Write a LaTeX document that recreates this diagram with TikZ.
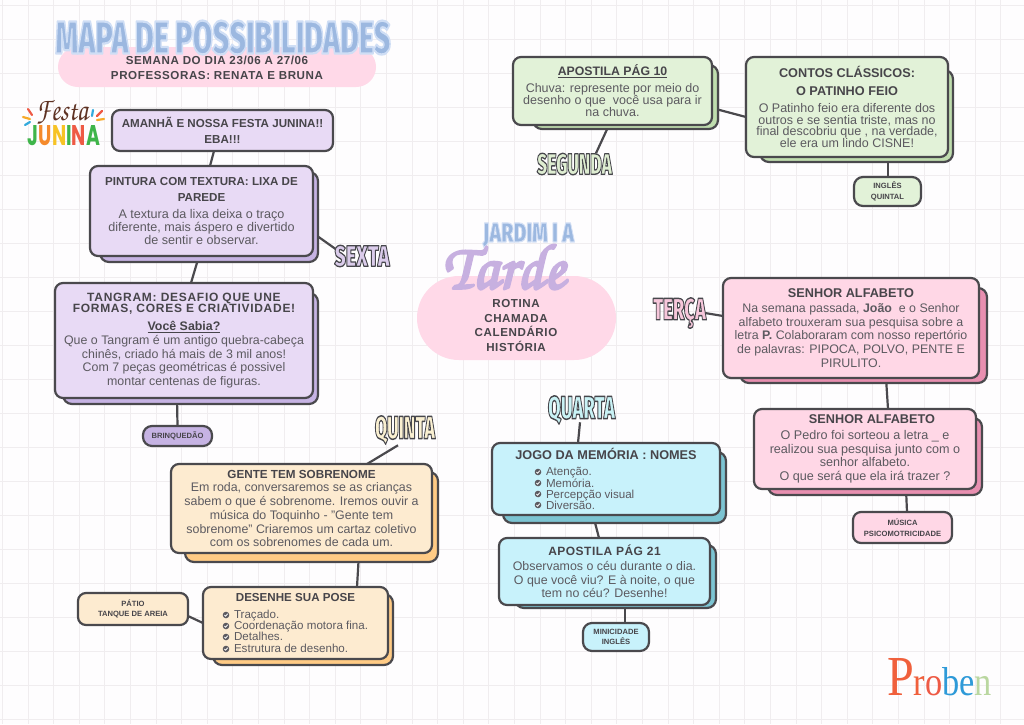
\documentclass[tikz,border=0pt]{standalone}
\usepackage[T1,TU]{fontenc}
\usepackage{fontspec}
\usepackage{graphicx}
\usetikzlibrary{calc}
\setmainfont{Liberation Sans}
\newfontfamily\dayfont{Fira Sans Black}
\newcommand\zapf{\fontencoding{T1}\fontfamily{pzc}\fontseries{mb}\fontshape{it}\selectfont}
\definecolor{paper}{HTML}{FEFDFE}
\definecolor{gridc}{HTML}{F0EDEF}
\definecolor{ink}{HTML}{4A494D}
\definecolor{bodyc}{HTML}{5C5A60}
\definecolor{headc}{HTML}{47454A}
\definecolor{blob}{HTML}{FFD9E8}
\definecolor{lilac}{HTML}{E8DAF5}
\definecolor{lilacd}{HTML}{C6B3E3}
\definecolor{cream}{HTML}{FDEBD0}
\definecolor{creamd}{HTML}{FFCB85}
\definecolor{mint}{HTML}{E2F2D8}
\definecolor{mintd}{HTML}{BFDDAE}
\definecolor{rose}{HTML}{FFD7E6}
\definecolor{rosed}{HTML}{E88FB0}
\definecolor{sky}{HTML}{C8F2FB}
\definecolor{skyd}{HTML}{7CC4D2}
\pgfdeclarelayer{gridlayer}\pgfdeclarelayer{linklayer}\pgfdeclarelayer{shadelayer}
\pgfsetlayers{gridlayer,linklayer,shadelayer,main}
\tikzset{
  x=1pt,y=-1pt,
  cardbox/.style={draw=ink,line width=2.2pt,rounded corners=8pt,inner sep=0pt,outer sep=0pt,text=bodyc,anchor=center},
  pillbox/.style={cardbox,rounded corners=9pt},
  backshade/.style={draw=ink,line width=2.2pt,rounded corners=9pt},
  linkline/.style={draw=ink,line width=2.2pt},
  blobshape/.style={fill=blob,draw=none},
  plaintext/.style={inner sep=0pt,outer sep=0pt,anchor=center},
  ray/.style={line width=2.2pt,line cap=round},
  tick/.style={fill=bodyc,draw=none}
}
\newcommand\hd[1]{{\bfseries\color{headc}#1}}
\newcommand\fz[2]{\fontsize{#1pt}{#2pt}\selectfont}
\newcommand\card[9]{%
  \pgfmathsetmacro\mx{(#2+#4)/2}\pgfmathsetmacro\my{(#3+#5)/2}%
  \pgfmathsetmacro\mw{#4-#2}\pgfmathsetmacro\mh{#5-#3}%
  \node[#8,fill=#6,minimum width=\mw pt,minimum height=\mh pt] (#1) at (\mx,\my)
    {\raisebox{#7pt}{\parbox{\mw pt}{\centering #9}}};}
\newcommand\backing[5]{\begin{pgfonlayer}{shadelayer}\draw[backshade,fill=#5] (#1,#2) rectangle (#3,#4);\end{pgfonlayer}}
\newcommand\outl[4]{\special{pdf:code q 2 Tr #1 w 1 j #2 RG #3 rg}#4\special{pdf:code Q}}
\newcommand\daylabel[7]{\node[plaintext] (#1) at (#2,#3) {\resizebox{#4pt}{#5pt}{\dayfont\fontsize{26pt}{26pt}\selectfont\outl{1.2}{0.28 0.28 0.3}{#6}{#7}}};}
\begin{document}
\begin{tikzpicture}
\useasboundingbox (0,0) rectangle (1024,724);
\begin{pgfonlayer}{gridlayer}
  \fill[paper] (0,0) rectangle (1024,724);
  \foreach \k in {-1,...,39} {\draw[gridc,line width=0.8pt] ({28+25.6*\k},0) -- ({28+25.6*\k},724);}
  \foreach \k in {0,...,21} {\draw[gridc,line width=0.8pt] (0,{5+34*\k}) -- (1024,{5+34*\k});}
  \fill[blobshape,rounded corners=20pt] (58,47) rectangle (376,87);
  \fill[blobshape,rounded corners=42pt] (417,276) rectangle (616,360);
\end{pgfonlayer}

% Titles
\node[plaintext] (title) at (223,37.5) {\resizebox{335pt}{33pt}{\dayfont\fontsize{48pt}{48pt}\selectfont\outl{2.4}{0.81 0.87 0.96}{0.61 0.72 0.88}{MAPA DE POSSIBILIDADES}}};
\node[plaintext,text=headc,align=center,font={\fz{11.6}{15}\bfseries\addfontfeature{LetterSpace=5}}] (week) at (217,67.5) {SEMANA DO DIA 23/06 A 27/06\\PROFESSORAS: RENATA E BRUNA};

\node[plaintext] (jardim) at (528.5,235) {\resizebox{91pt}{19pt}{\dayfont\fontsize{28pt}{28pt}\selectfont\outl{1.2}{0.83 0.88 0.96}{0.61 0.72 0.88}{JARDIM I A}}};
\node[plaintext] (tarde) at (504,266) {\resizebox{122pt}{46pt}{\zapf\fontsize{60pt}{60pt}\selectfont\outl{2.4}{0.78 0.69 0.88}{0.78 0.69 0.88}{Tarde}}};
\node[plaintext,text=headc,align=center,font={\fz{11.6}{14.5}\bfseries\addfontfeature{LetterSpace=5}}] (rotina) at (516,325.5) {ROTINA\\CHAMADA\\CALENDÁRIO\\HISTÓRIA};

% Festa Junina logo
\node[plaintext] (festa) at (62,113) {\resizebox{52pt}{20pt}{\zapf\color[HTML]{5E3223}Festa}};
\node[plaintext] (junina) at (64,135.5) {\resizebox{72pt}{20pt}{\fontspec{Poppins}\bfseries\textcolor[HTML]{3FB54A}{J}\textcolor[HTML]{F58A2C}{U}\textcolor[HTML]{F7C325}{N}\textcolor[HTML]{3FB54A}{I}\textcolor[HTML]{EE5A45}{N}\textcolor[HTML]{3FB54A}{A}}};
\draw[ray,color={rgb,255:red,238;green,90;blue,69}] (28,109) -- (32,115);
\draw[ray,color={rgb,255:red,247;green,170;blue,40}] (23,117) -- (30,119);
\draw[ray,color={rgb,255:red,50;green,170;blue,220}] (25,125) -- (30,122);
\draw[ray,color={rgb,255:red,50;green,170;blue,220}] (93,110) -- (92,116);
\draw[ray,color={rgb,255:red,238;green,90;blue,69}] (102,111) -- (97,116);
\draw[ray,color={rgb,255:red,247;green,170;blue,40}] (104,119) -- (97,120);

% Proben
\node[plaintext] (proben) at (939.5,677) {\resizebox{105pt}{37pt}{\fontspec{Liberation Serif}\addfontfeature{LetterSpace=8}\textcolor[HTML]{F0603C}{\fontsize{14pt}{14pt}\selectfont P}\textcolor[HTML]{F0603C}{r}\textcolor[HTML]{EE5A45}{o}\textcolor[HTML]{2E9AD8}{b}\textcolor[HTML]{2E9AD8}{e}\textcolor[HTML]{BAD7A0}{n}}};

% Left column
\card{amanha}{112}{110}{333}{151}{lilac}{1}{cardbox}{\fz{11.6}{16}\hd{AMANHÃ E NOSSA FESTA JUNINA!!}\\\hd{EBA!!!}}

\backing{100}{172}{318}{262}{lilacd}
\card{pintura}{90}{166}{313}{256}{lilac}{4}{cardbox}{\fz{12.6}{11.7}\hd{\fontsize{11.6pt}{11.7pt}\selectfont PINTURA COM TEXTURA: LIXA DE}\\[4pt]\hd{\fontsize{11.6pt}{11.7pt}\selectfont PAREDE}\\[6pt]A textura da lixa deixa o traço\\diferente, mais áspero e divertido\\de sentir e observar.}

\backing{63}{293}{318}{404}{lilacd}
\card{tangram}{55}{283}{313}{398}{lilac}{-2}{cardbox}{\fz{12.4}{13.7}{\bfseries\color{headc}\fontsize{12pt}{13.7pt}\selectfont\addfontfeature{LetterSpace=6}TANGRAM: DESAFIO QUE UNE}\\[-2.7pt]{\bfseries\color{headc}\fontsize{12pt}{13.7pt}\selectfont\addfontfeature{LetterSpace=6}FORMAS, CORES E CRIATIVIDADE!}\\[5pt]\hd{\underline{Você Sabia?}}\\Que o Tangram é um antigo quebra-cabeça\\chinês, criado há mais de 3 mil anos!\\Com 7 peças geométricas é possivel\\montar centenas de figuras.}

\card{brinq}{143}{426}{212}{446}{lilacd}{0}{pillbox}{\fz{7.6}{10}\hd{BRINQUEDÃO}}

\backing{185}{472}{438}{562}{creamd}
\card{gente}{171}{464}{432}{553}{cream}{-1}{cardbox}{\fz{12.4}{13.7}\hd{\fontsize{11.7pt}{13.7pt}\selectfont GENTE TEM SOBRENOME}\\Em roda, conversaremos se as crianças\\sabem o que é sobrenome. Iremos ouvir a\\música do Toquinho - "Gente tem\\sobrenome" Criaremos um cartaz coletivo\\com os sobrenomes de cada um.}

\backing{213}{594}{393}{665}{creamd}
\card{pose}{203}{587}{388}{659}{cream}{-1}{cardbox}{\fz{11.6}{11.3}\hd{\fontsize{11.6pt}{11.3pt}\selectfont DESENHE SUA POSE}\\[5pt]{\raggedright\hspace*{31pt}Traçado.\\\hspace*{31pt}Coordenação motora fina.\\\hspace*{31pt}Detalhes.\\\hspace*{31pt}Estrutura de desenho.\par}}

\card{patio}{78}{593}{188}{625}{cream}{0}{cardbox}{\fz{7.6}{10.7}\hd{PÁTIO}\\\hd{TANQUE DE AREIA}}

% Top right
\backing{533}{65}{718}{129}{mintd}
\card{ap10}{513}{57}{712}{125}{mint}{0}{cardbox}{\fz{12.5}{12}\hd{\fontsize{12.3pt}{12pt}\selectfont\underline{APOSTILA PÁG 10}}\\[5pt]Chuva: represente por meio do\\desenho o que\ \ você usa para ir\\na chuva.}

\backing{760}{70}{953}{162}{mintd}
\card{contos}{746}{57}{948}{157}{mint}{1}{cardbox}{\fz{12.5}{11.7}\hd{\fontsize{12.7pt}{11.7pt}\selectfont CONTOS CLÁSSICOS:}\\[6.3pt]\hd{\fontsize{12.7pt}{11.7pt}\selectfont O PATINHO FEIO}\\[5.3pt]O Patinho feio era diferente dos\\outros e se sentia triste, mas no\\final descobriu que , na verdade,\\ele era um lindo CISNE!}

\card{ingles}{854}{177}{921}{206}{mint}{0}{pillbox}{\fz{7.6}{10.7}\hd{INGLÊS}\\\hd{QUINTAL}}

% Right
\backing{740}{288}{987}{383}{rosed}
\card{senhora}{723}{278}{979}{378}{rose}{-2}{cardbox}{\fz{12.4}{13.7}\hd{\fontsize{12.7pt}{13.7pt}\selectfont SENHOR ALFABETO}\\[1.3pt]Na semana passada, \textbf{João}\ \ e o Senhor\\alfabeto trouxeram sua pesquisa sobre a\\letra \textbf{P.} Colaboraram com nosso repertório\\de palavras: PIPOCA, POLVO, PENTE E\\PIRULITO.}

\backing{768}{418}{982}{495}{rosed}
\card{senhorb}{754}{409}{976}{489}{rose}{-1}{cardbox}{\fz{12.6}{13.6}\hspace*{14pt}\hd{\fontsize{12.7pt}{13.6pt}\selectfont SENHOR ALFABETO}\\[2.4pt]O Pedro foi sorteou a letra \_ e\\realizou sua pesquisa junto com o\\senhor alfabeto.\\O que será que ela irá trazer ?}

\card{musica}{853}{512}{952}{543}{rose}{0}{cardbox}{\fz{7.6}{10.7}\hd{MÚSICA}\\\hd{PSICOMOTRICIDADE}}

% Centre
\backing{503}{452}{726}{523}{skyd}
\card{jogo}{492}{443}{720}{515}{sky}{-2}{cardbox}{\fz{11.6}{11.3}\hd{\fontsize{12.7pt}{11.3pt}\selectfont JOGO DA MEMÓRIA : NOMES}\\[5pt]{\raggedright\hspace*{54pt}Atenção.\\\hspace*{54pt}Memória.\\\hspace*{54pt}Percepção visual\\\hspace*{54pt}Diversão.\par}}

\backing{515}{545}{716}{608}{skyd}
\card{ap21}{499}{538}{710}{605}{sky}{2}{cardbox}{\fz{12.4}{13.6}{\bfseries\color{headc}\fontsize{12pt}{13.6pt}\selectfont\addfontfeature{LetterSpace=4}APOSTILA PÁG 21}\\[1.4pt]Observamos o céu durante o dia.\\O que você viu? E à noite, o que\\tem no céu? Desenhe!}

\card{mini}{583}{623}{649}{651}{sky}{0}{pillbox}{\fz{7.6}{10.7}\hd{MINICIDADE}\\\hd{INGLÊS}}

% Check bullets
\foreach \bx/\by in {226/615,226/626,226/637,226/649,538/472,538/483,538/494,538/505} {
  \fill[tick] (\bx,\by) circle (3.3);
  \draw[white,line width=0.8pt] (\bx-1.6,\by) -- (\bx-0.4,\by+1.2) -- (\bx+1.7,\by-1.3);
}

% Day labels
\daylabel{sexta}{362}{256}{55}{21}{0.86 0.8 0.92}{SEXTA}
\daylabel{quinta}{405}{430}{60}{23}{0.98 0.94 0.82}{QUINTA}
\daylabel{quarta}{581.5}{410}{67}{23}{0.79 0.95 0.96}{QUARTA}
\daylabel{segunda}{574.5}{164}{75}{21}{0.87 0.93 0.82}{SEGUNDA}
\daylabel{terca}{679.5}{313}{53}{22}{0.97 0.78 0.86}{TERÇA}

% Connectors
\begin{pgfonlayer}{linklayer}
\draw[linkline] ([xshift=-8.5pt]amanha.south) -- ([xshift=8.5pt]pintura.north);
\draw[linkline] ([yshift=-22pt]pintura.east) -- ([xshift=2.5pt,yshift=6pt]sexta.west);
\draw[linkline] ([xshift=-2.5pt]pintura.south) -- ([xshift=7pt]tangram.north);
\draw[linkline] ([xshift=-7pt]tangram.south) -- (brinq.north);
\draw[linkline] ([xshift=-7pt,yshift=-1pt]quinta.south) -- ([xshift=65.5pt]gente.north);
\draw[linkline] ([xshift=57.5pt]gente.south) -- ([xshift=61.5pt]pose.north);
\draw[linkline] ([yshift=-7pt]patio.east) -- (pose.west);
\draw[linkline] ([xshift=-3.5pt]ap10.south) -- ([xshift=21.5pt]segunda.north);
\draw[linkline] ([yshift=-17pt]ap10.east) -- ([yshift=-10pt]contos.west);
\draw[linkline] ([xshift=41pt]contos.south) -- ([xshift=0.5pt]ingles.north);
\draw[linkline] ([xshift=-1pt]terca.east) -- ([yshift=12pt]senhora.west);
\draw[linkline] ([xshift=35pt]senhora.south) -- ([xshift=23pt]senhorb.north);
\draw[linkline] ([xshift=41pt]senhorb.south) -- ([xshift=4.5pt]musica.north);
\draw[linkline] ([xshift=-1.5pt,yshift=2pt]quarta.south) -- ([xshift=-28pt]jogo.north);
\draw[linkline] ([xshift=-13pt]jogo.south) -- ([xshift=-5.5pt]ap21.north);
\draw[linkline] ([xshift=20.5pt]ap21.south) -- ([xshift=9pt]mini.north);
\end{pgfonlayer}
\end{tikzpicture}
\end{document}
